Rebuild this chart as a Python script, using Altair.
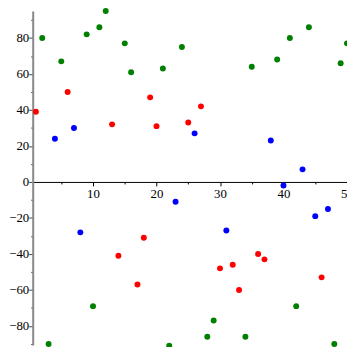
import altair as alt
import pandas as pd

green_x = [2, 5, 9, 11, 12, 15, 16, 21, 24, 35, 39, 41, 44, 49, 50, 3, 10, 22, 28, 29, 34, 42, 48]
green_y = [80, 67, 82, 86, 95, 77, 61, 63, 75, 64, 68, 80, 86, 66, 77, -90, -69, -91, -86, -77, -86, -69, -90]
red_x = [1, 6, 13, 19, 20, 25, 27, 14, 17, 18, 30, 32, 33, 36, 37, 46]
red_y = [39, 50, 32, 47, 31, 33, 42, -41, -57, -31, -48, -46, -60, -40, -43, -53]
blue_x = [4, 7, 26, 38, 43, 8, 23, 31, 40, 45, 47]
blue_y = [24, 30, 27, 23, 7, -28, -11, -27, -2, -19, -15]

x_ticks = list(range(5, 51, 5))
y_ticks = list(range(-90, 91, 10))

rows = []
for name, xs, ys in [("g", green_x, green_y), ("r", red_x, red_y), ("b", blue_x, blue_y)]:
    for a, b in zip(xs, ys):
        rows.append({"x": a, "y": b, "s": name})
df = pd.DataFrame(rows)

XMIN, XMAX = 0.5, 50
YMIN, YMAX = -90.6, 95
W, H = 318, 338
y0_px = H * YMAX / (YMAX - YMIN)
x_offset = -(H - y0_px)

FONT = "Liberation Serif"
FS = 13

chart = alt.Chart(df).mark_circle(size=36, opacity=1).encode(
    x=alt.X("x:Q",
            scale=alt.Scale(domain=[XMIN, XMAX], nice=False, zero=False),
            axis=alt.Axis(values=x_ticks, title=None, grid=False,
                          labelExpr="datum.value % 10 == 0 ? datum.label : ''",
                          tickSize={"condition": {"test": "datum.value % 10 == 0", "value": 4}, "value": 2},
                          domainColor="black", domainWidth=1, tickColor="black", tickWidth=1,
                          offset=x_offset, labelFont=FONT, labelFontSize=FS, labelColor="black",
                          labelPadding=2, labelFlush=False, labelOverlap=False, labelBound=False)),
    y=alt.Y("y:Q",
            scale=alt.Scale(domain=[YMIN, YMAX], nice=False, zero=False),
            axis=alt.Axis(values=y_ticks, title=None, grid=False,
                          labelExpr="datum.value % 20 == 0 ? (datum.value < 0 ? '\u2212' + abs(datum.value) : '' + datum.value) : ''",
                          tickSize={"condition": {"test": "datum.value % 20 == 0", "value": 4}, "value": 2},
                          domainColor="#888888", domainWidth=2, tickColor="#444444", tickWidth=1,
                          labelFont=FONT, labelFontSize=FS, labelColor="black",
                          labelPadding=0, labelFlush=False, labelOverlap=False, labelBound=False)),
    color=alt.Color("s:N", scale=alt.Scale(domain=["g", "r", "b"], range=["#008000", "#ff0000", "#0000ff"]), legend=None),
).properties(
    width=W, height=H,
    padding={"left": 25, "top": 1, "right": 0, "bottom": 0},
    autosize=alt.AutoSizeParams(type="none"),
).configure_view(stroke=None)

chart.save("out.html", embed_options={"renderer": "svg", "actions": False})
